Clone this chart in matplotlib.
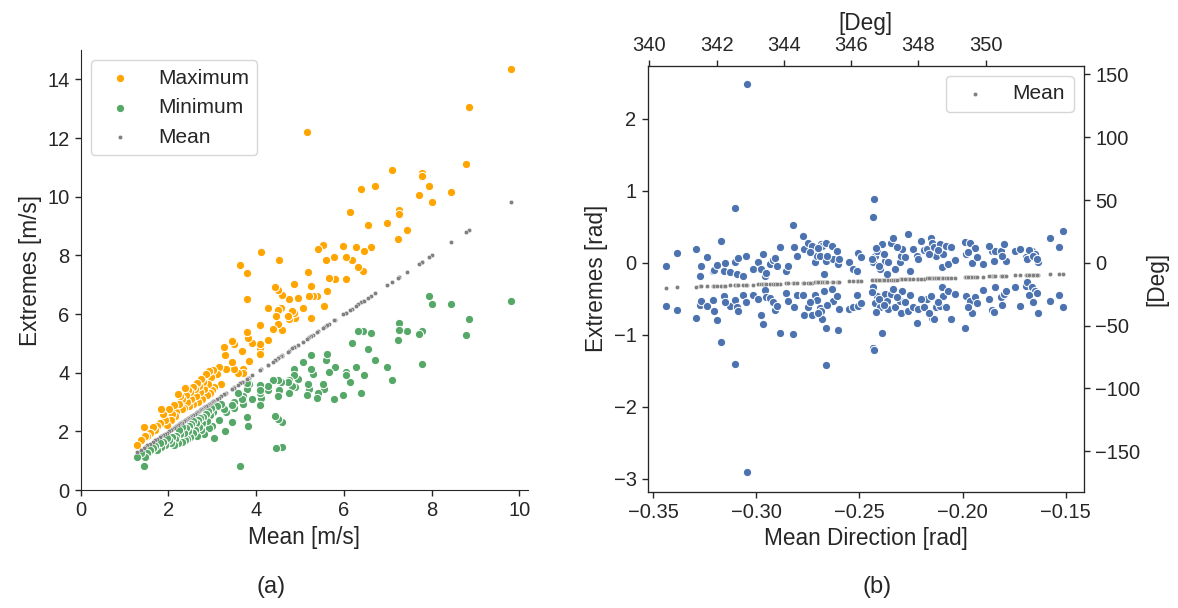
import numpy as np
import matplotlib.pyplot as plt

plt.rcParams['font.family'] = ['Liberation Sans', 'DejaVu Sans']
plt.rcParams['text.color'] = '.15'
plt.rcParams['axes.labelcolor'] = '.15'
plt.rcParams['axes.edgecolor'] = '.15'
plt.rcParams['xtick.color'] = '.15'
plt.rcParams['ytick.color'] = '.15'

# wind speed statistics per record [m/s]
mean_speed = [9.81, 8.85, 8.78, 8.45, 8.01, 7.94, 7.78, 7.78, 7.71, 7.43,
              7.27, 7.27, 7.24, 7.10, 6.98, 6.72, 6.62, 6.55, 6.43, 6.40,
              6.33, 6.45, 6.28, 6.18, 6.15, 6.05, 6.05, 5.99, 5.79, 5.78,
              5.66, 5.60, 5.62, 5.55, 5.52, 5.41, 5.38, 5.29, 5.25, 5.25,
              5.21, 5.19, 5.15, 5.06, 4.96, 4.89, 4.86, 4.86, 4.83, 4.75,
              4.75, 4.72, 4.60, 4.58, 4.56, 4.53, 4.51, 4.50, 4.49, 4.45,
              4.43, 4.38, 4.27, 4.27, 4.12, 4.10, 4.10, 4.09, 4.08, 3.91,
              3.83, 3.81, 3.80, 3.79, 3.79, 3.69, 3.69, 3.68, 3.64, 3.59,
              3.50, 3.49, 3.46, 3.46, 3.31, 3.28, 3.27, 3.20, 3.15, 3.10,
              3.05, 3.02, 3.00, 2.97, 2.95, 2.92, 2.90, 2.87, 2.85, 2.82,
              2.80, 2.77, 2.75, 2.72, 2.70, 2.67, 2.65, 2.62, 2.60, 2.57,
              2.55, 2.52, 2.50, 2.47, 2.45, 2.42, 2.40, 2.38, 2.35, 2.32,
              2.30, 2.27, 2.25, 2.21, 2.18, 2.15, 2.12, 2.08, 2.05, 2.02,
              1.96, 1.92, 1.88, 1.84, 1.80, 1.74, 1.70, 1.65, 1.58, 1.52,
              1.46, 1.44, 1.38, 1.29]
max_speed = [14.35, 13.07, 11.13, 10.15, 9.82, 10.38, 10.80, 10.70, 10.05, 8.87,
             9.53, 9.42, 8.55, 10.92, 9.10, 10.38, 8.28, 9.05, 7.48, 10.26,
             7.60, 8.16, 8.28, 7.83, 9.49, 7.95, 7.18, 8.32, 7.18, 7.95,
             7.23, 7.83, 6.78, 6.28, 8.34, 8.23, 6.61, 6.61, 6.95, 5.87,
             6.61, 7.45, 12.19, 6.21, 6.56, 5.88, 7.01, 6.04, 6.11, 6.52,
             5.83, 5.95, 5.47, 6.66, 6.21, 7.83, 6.82, 6.15, 5.67, 5.95,
             6.93, 5.50, 6.19, 5.13, 8.12, 4.85, 4.65, 5.63, 4.97, 5.02,
             4.39, 5.20, 5.40, 7.40, 6.51, 4.13, 3.99, 4.75, 7.67, 3.99,
             4.13, 4.98, 5.07, 4.35, 4.13, 4.59, 4.87, 3.60, 4.20, 3.95,
             3.50, 4.10, 3.40, 3.85, 3.30, 4.05, 3.60, 3.25, 3.95, 3.45,
             3.70, 3.10, 3.80, 3.35, 3.55, 3.00, 3.65, 3.20, 3.45, 2.95,
             3.50, 3.10, 3.35, 2.85, 3.40, 3.00, 3.25, 3.48, 2.80, 3.10,
             2.75, 3.20, 2.95, 3.28, 2.65, 2.53, 2.90, 2.60, 2.40, 2.75,
             2.21, 2.40, 2.59, 2.76, 2.30, 2.20, 2.05, 2.15, 1.95, 1.85,
             1.83, 2.16, 1.70, 1.55]
min_speed = [6.45, 5.84, 5.30, 6.34, 6.34, 6.61, 5.42, 4.30, 5.31, 5.42,
             5.70, 5.47, 5.13, 3.76, 4.19, 4.42, 5.35, 4.82, 5.42, 3.31,
             5.42, 3.93, 4.19, 5.02, 3.70, 4.04, 3.93, 3.25, 4.19, 3.10,
             4.04, 4.42, 4.65, 3.45, 3.60, 3.30, 3.15, 3.96, 4.13, 4.60,
             3.45, 3.62, 3.25, 4.38, 3.77, 3.50, 4.13, 3.93, 3.55, 3.30,
             3.76, 3.70, 1.48, 2.31, 3.70, 3.40, 2.42, 3.76, 3.20, 1.45,
             2.53, 3.76, 3.40, 3.55, 3.15, 3.30, 3.58, 3.40, 2.90, 3.10,
             3.62, 2.19, 3.45, 2.50, 3.65, 3.20, 2.95, 3.10, 0.83, 3.30,
             3.00, 2.80, 2.31, 2.90, 2.65, 2.00, 2.75, 2.95, 2.40, 2.85,
             1.77, 2.65, 2.20, 2.80, 2.55, 2.10, 2.70, 2.35, 2.60, 1.90,
             2.50, 2.30, 2.05, 2.45, 2.15, 2.40, 1.85, 2.30, 2.05, 2.35,
             1.95, 2.25, 1.80, 2.20, 2.00, 1.75, 2.10, 1.70, 1.95, 2.15,
             1.65, 1.90, 2.05, 1.60, 1.85, 1.75, 1.55, 1.80, 1.60, 1.70,
             1.77, 1.55, 1.65, 1.48, 1.60, 1.38, 1.50, 1.42, 1.35, 1.25,
             1.11, 0.83, 1.25, 1.11]

# wind direction statistics per record [rad]
mean_dir = [-0.3439, -0.3387, -0.3293, -0.3274, -0.3266, -0.3241, -0.3212, -0.3206,
            -0.3193, -0.3173, -0.3156, -0.3128, -0.3104, -0.3102, -0.3096, -0.3088,
            -0.3067, -0.3044, -0.3015, -0.2991, -0.2979, -0.2967, -0.2958, -0.2955,
            -0.2934, -0.2921, -0.2908, -0.2884, -0.2858, -0.2845, -0.2824, -0.2816,
            -0.2805, -0.2773, -0.2771, -0.2750, -0.2732, -0.2716, -0.2706, -0.2692,
            -0.2684, -0.2680, -0.2672, -0.2663, -0.2660, -0.2635, -0.2627, -0.2611,
            -0.2603, -0.2600, -0.2549, -0.2530, -0.2514, -0.2506, -0.2490, -0.2436,
            -0.2428, -0.2433, -0.2423, -0.2414, -0.2401, -0.2391, -0.2376, -0.2368,
            -0.2360, -0.2347, -0.2336, -0.2328, -0.2304, -0.2297, -0.2296, -0.2263,
            -0.2255, -0.2239, -0.2223, -0.2215, -0.2186, -0.2174, -0.2155, -0.2149,
            -0.2139, -0.2129, -0.2110, -0.2102, -0.2094, -0.2081, -0.2069, -0.2056,
            -0.2037, -0.1988, -0.1984, -0.1964, -0.1956, -0.1940, -0.1932, -0.1900,
            -0.1859, -0.1848, -0.1843, -0.1814, -0.1798, -0.1790, -0.1746, -0.1722,
            -0.1693, -0.1685, -0.1665, -0.1649, -0.1633, -0.1576, -0.1531, -0.1512,
            -0.2740, -0.2700, -0.2655, -0.2440, -0.2420, -0.2405, -0.2380, -0.2320,
            -0.2280, -0.2200, -0.2165, -0.2120, -0.1975, -0.1870, -0.1810, -0.1680,
            -0.1660, -0.1640, -0.3050, -0.2900, -0.3150]
max_dir = [-0.05, 0.13, 0.19, -0.18, -0.04, 0.08, -0.12, -0.10,
           -0.03, 0.30, -0.11, -0.13, 0.76, 0.005, -0.15, 0.07,
           -0.18, 2.49, -0.08, 0.005, -0.09, 0.12, -0.18, -0.14,
           -0.02, 0.04, 0.07, 0.22, -0.11, -0.05, 0.52, 0.22,
           0.09, 0.37, 0.195, 0.27, 0.24, 0.005, 0.09, 0.10,
           0.265, 0.24, -0.15, 0.27, 0.02, 0.24, 0.06, 0.17,
           -0.02, 0.05, 0.005, -0.09, -0.11, 0.13, 0.08, 0.64,
           0.89, 0.01, 0.10, 0.17, -0.08, 0.265, 0.03, -0.15,
           0.01, 0.27, 0.35, -0.08, 0.01, 0.10, 0.195, 0.40,
           -0.11, 0.195, 0.10, 0.06, 0.18, 0.195, 0.35, 0.27,
           0.22, 0.10, 0.265, -0.06, 0.125, 0.24, -0.01, 0.22,
           0.04, 0.29, 0.125, 0.27, -0.005, 0.20, 0.08, -0.02,
           0.17, 0.03, 0.17, 0.17, 0.265, 0.03, 0.17, 0.195,
           0.08, 0.06, 0.17, 0.125, 0.01, 0.35, 0.22, 0.44,
           0.15, 0.20, 0.10, 0.05, 0.20, -0.04, 0.12, 0.22,
           0.08, 0.30, 0.12, 0.18, 0.15, 0.23, 0.10, 0.18,
           0.10, 0.05, 0.10, -0.05, 0.00]
min_dir = [-0.60, -0.66, -0.76, -0.59, -0.53, -0.60, -0.51, -0.67,
           -0.79, -1.10, -0.46, -0.60, -1.40, -0.52, -0.62, -0.67,
           -0.44, -2.91, -0.44, -0.50, -0.72, -0.85, -0.38, -0.48,
           -0.49, -0.55, -0.66, -0.97, -0.42, -0.53, -0.99, -0.62,
           -0.44, -0.44, -0.72, -0.62, -0.72, -0.44, -0.52, -0.63,
           -0.67, -0.78, -0.39, -0.90, -1.42, -0.36, -0.53, -0.46,
           -0.94, -0.64, -0.64, -0.62, -0.44, -0.60, -0.56, -1.19,
           -1.21, -0.34, -0.56, -0.46, -0.62, -0.97, -0.43, -0.53,
           -0.64, -0.43, -0.36, -0.62, -0.53, -0.70, -0.39, -0.67,
           -0.44, -0.62, -0.83, -0.64, -0.62, -0.50, -0.46, -0.76,
           -0.78, -0.62, -0.60, -0.34, -0.46, -0.62, -0.39, -0.78,
           -0.43, -0.90, -0.46, -0.53, -0.70, -0.48, -0.56, -0.38,
           -0.66, -0.69, -0.33, -0.48, -0.43, -0.39, -0.33, -0.60,
           -0.32, -0.27, -0.34, -0.39, -0.70, -0.53, -0.44, -0.62,
           -0.55, -0.70, -0.58, -0.40, -0.68, -0.50, -0.58, -0.47,
           -0.55, -0.50, -0.70, -0.55, -0.62, -0.50, -0.58, -0.45,
           -0.55, -0.42, -0.55, -0.60, -0.55]

fig = plt.figure(figsize=(11.78, 6.08), dpi=100)

tick_fs = 14.5
label_fs = 16.3
dot = dict(s=36, edgecolor='white', linewidth=0.75)
small = dict(s=10, edgecolor='white', linewidth=0.3)

# (a) speed extremes vs mean speed
ax1 = fig.add_axes([0.0685, 0.194, 0.3797, 0.7237])
ax1.scatter(mean_speed, max_speed, color='orange', label='Maximum', **dot)
ax1.scatter(mean_speed, min_speed, color='#55A868', label='Minimum', **dot)
ax1.scatter(mean_speed, mean_speed, color='grey', label='Mean', **small)
ax1.set_xlim(0, 10.2)
ax1.set_ylim(0, 15)
ax1.set_xticks([0, 2, 4, 6, 8, 10])
ax1.set_yticks([0, 2, 4, 6, 8, 10, 12, 14])
ax1.spines['top'].set_visible(False)
ax1.spines['right'].set_visible(False)
ax1.set_xlabel('Mean [m/s]', fontsize=label_fs)
ax1.set_ylabel('Extremes [m/s]', fontsize=label_fs)
ax1.tick_params(labelsize=tick_fs, length=4.5, width=1)
ax1.legend(loc='upper left', fontsize=15)

# (b) direction extremes vs mean direction
ax2 = fig.add_axes([0.5498, 0.1913, 0.3704, 0.7007])
ax2.scatter(mean_dir, max_dir, color='#4C72B0', **dot)
ax2.scatter(mean_dir, min_dir, color='#4C72B0', **dot)
ax2.scatter(mean_dir, mean_dir, color='grey', label='Mean', **small)
ax2.set_xlim(-0.3527, -0.1411)
ax2.set_ylim(-3.18, 2.74)
ax2.set_xticks([-0.35, -0.30, -0.25, -0.20, -0.15])
ax2.set_yticks([-3, -2, -1, 0, 1, 2])
ax2.set_xlabel('Mean Direction [rad]', fontsize=label_fs)
ax2.set_ylabel('Extremes [rad]', fontsize=label_fs)
ax2.tick_params(labelsize=tick_fs, length=4.5, width=1)
ax2.legend(loc='upper right', fontsize=15)

# same data in degrees
ax_r = ax2.twinx()
lo, hi = ax2.get_ylim()
ax_r.set_ylim(np.degrees(lo), np.degrees(hi))
ax_r.set_yticks([-150, -100, -50, 0, 50, 100, 150])
ax_r.set_ylabel('[Deg]', fontsize=label_fs)
ax_r.tick_params(labelsize=tick_fs, length=4.5, width=1)

ax_t = ax2.twiny()
ax_t.set_xlim(339.95, 352.92)
ax_t.set_xticks([340, 342, 344, 346, 348, 350])
ax_t.set_xlabel('[Deg]', fontsize=label_fs)
ax_t.tick_params(labelsize=tick_fs, length=4.5, width=1)

fig.text(0.230, 0.025, '(a)', fontsize=17, ha='center')
fig.text(0.7445, 0.025, '(b)', fontsize=17, ha='center')

fig.savefig('out.png', dpi=100)
